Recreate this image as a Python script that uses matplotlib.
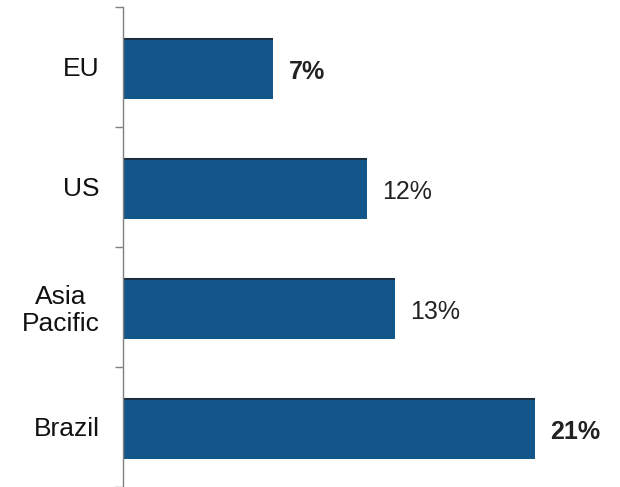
import matplotlib.pyplot as plt
import numpy as np

# Growth by region (top to bottom); bar lengths as drawn, labels as printed
regions = ["EU", "US", "Asia\nPacific", "Brazil"]
values = [7.65, 12.45, 13.85, 21.0]
labels = ["7%", "12%", "13%", "21%"]
bold = [True, False, False, True]

plt.rcParams["font.family"] = ["Liberation Sans", "DejaVu Sans"]

fig = plt.figure(figsize=(6.2, 4.87), dpi=100)
ax = fig.add_axes([123 / 620, 0.0, 1 - 123 / 620, 480 / 487])

y = np.arange(len(regions))
h = 0.5
ax.barh(y + 0.02, values, height=h, color="#12568a", edgecolor="none")
# dark top edge on each bar
ax.hlines(y + 0.02 - h / 2, 0, values, color="#1c2f40", linewidth=1.5)

for yi, v, lab, b in zip(y, values, labels, bold):
    ax.annotate(lab, (v, yi + 0.04), xytext=(11, 0), textcoords="offset points",
                va="center", ha="left", fontsize=18,
                fontweight="bold" if b else "normal", color="#222222")

ax.set_ylim(len(regions) - 0.5, -0.5)
ax.set_xlim(0, 25.33)

ax.set_yticks(y)
ax.set_yticklabels(regions, fontsize=19, ha="right", multialignment="center",
                   linespacing=1.15)
ax.set_yticks(np.arange(len(regions) + 1) - 0.5, minor=True)
ax.tick_params(axis="y", which="major", length=0, pad=17, labelcolor="#111111")
ax.tick_params(axis="y", which="minor", length=6, width=1, color="#808080")
ax.set_xticks([])

for s in ["top", "right", "bottom"]:
    ax.spines[s].set_visible(False)
ax.spines["left"].set_color("#808080")
ax.spines["left"].set_linewidth(1)

fig.savefig("out.png", dpi=100)
